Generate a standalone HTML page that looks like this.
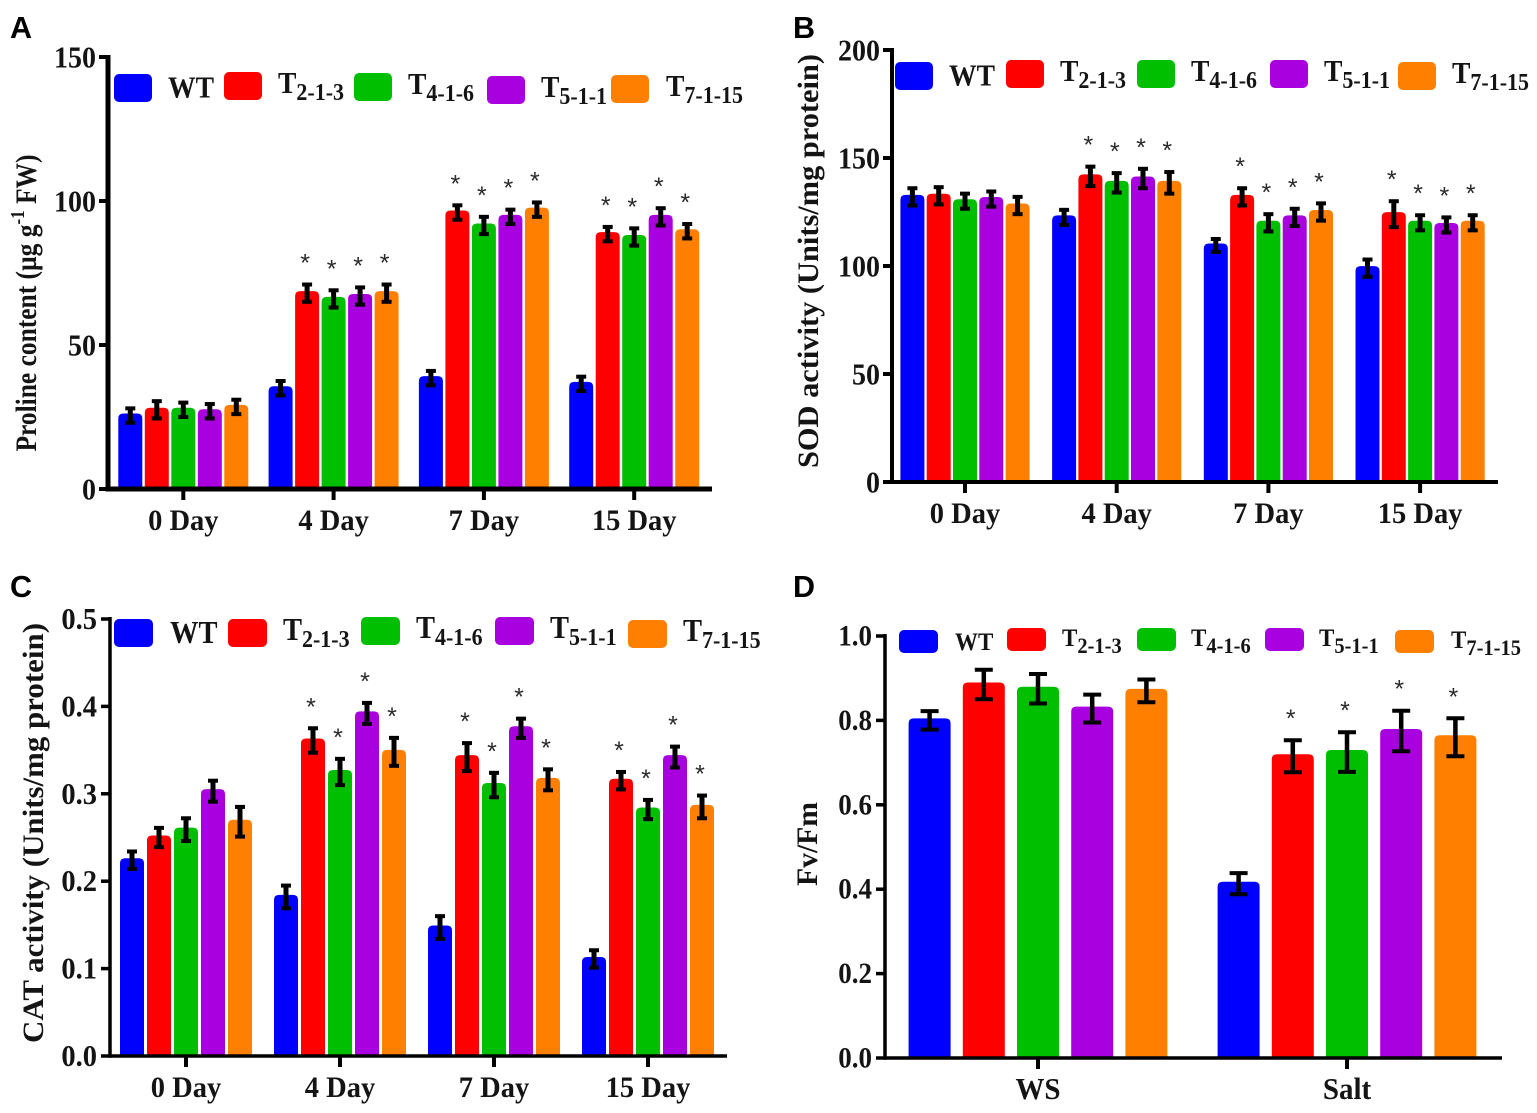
<!DOCTYPE html>
<html lang="en">
<head>
<meta charset="utf-8">
<title>Physiological measurements of WT and transgenic lines</title>
<style>
html,body{margin:0;padding:0;background:#fff;width:1537px;height:1113px;overflow:hidden}
svg{display:block}
text{font-family:"Liberation Serif",serif;font-weight:bold;fill:#141414}
.panel-letter{font-family:"Liberation Sans",sans-serif;font-size:30.5px;fill:#000}
</style>
</head>
<body>
<svg id="figure" width="1537" height="1113" viewBox="0 0 1537 1113" xmlns="http://www.w3.org/2000/svg"></svg>
<script>
// ---- Shared data ----
const seriesNames = ["WT", "T2-1-3", "T4-1-6", "T5-1-1", "T7-1-15"];
const seriesColors = ["#0000ff", "#ff0000", "#00bf00", "#a900e0", "#ff8000"];
const dayCategories = ["0 Day", "4 Day", "7 Day", "15 Day"];

// ---- Panel A: proline ----
const prolineTicks = [0, 50, 100, 150];
const prolineValues = [
  [25.5, 35, 38.5, 36.5],
  [27.5, 68, 96, 88.5],
  [27.5, 66, 91.5, 87.5],
  [27, 67, 94.5, 94.5],
  [28.5, 68, 97, 89.5]
];
const prolineErrors = [
  [2.5, 2.5, 2.5, 2.5],
  [3, 3, 2.5, 2.5],
  [2.5, 3, 3, 3],
  [2.5, 3, 2.5, 3],
  [2.5, 3, 2.5, 2.5]
];
const prolineStars = [
  [0, 0, 0, 0],
  [0, 1, 1, 1],
  [0, 1, 1, 1],
  [0, 1, 1, 1],
  [0, 1, 1, 1]
];

// ---- Panel B: SOD ----
const sodTicks = [0, 50, 100, 150, 200];
const sodValues = [
  [132, 122.5, 109.5, 99],
  [132.5, 141.5, 132, 124],
  [130, 138.5, 120, 120],
  [131, 140.5, 122.5, 119],
  [128, 138.5, 125, 120]
];
const sodErrors = [
  [4, 3.5, 3, 4],
  [4, 4.5, 4, 6],
  [3.5, 4.5, 4, 3.5],
  [3.5, 4.5, 4, 3.5],
  [4, 5, 4, 3.5]
];
const sodStars = [
  [0, 0, 0, 0],
  [0, 1, 1, 1],
  [0, 1, 1, 1],
  [0, 1, 1, 1],
  [0, 1, 1, 1]
];

// ---- Panel C: CAT ----
const catTicks = ["0.0", "0.1", "0.2", "0.3", "0.4", "0.5"];
const catValues = [
  [0.224, 0.182, 0.147, 0.111],
  [0.25, 0.361, 0.342, 0.315],
  [0.259, 0.325, 0.31, 0.282],
  [0.303, 0.392, 0.375, 0.342],
  [0.268, 0.348, 0.316, 0.285]
];
const catErrors = [
  [0.01, 0.013, 0.013, 0.01],
  [0.011, 0.014, 0.016, 0.01],
  [0.013, 0.015, 0.014, 0.011],
  [0.012, 0.012, 0.011, 0.012],
  [0.017, 0.016, 0.012, 0.013]
];
const catStars = [
  [0, 0, 0, 0],
  [0, 1, 1, 1],
  [0, 1, 1, 1],
  [0, 1, 1, 1],
  [0, 1, 1, 1]
];

// ---- Panel D: Fv/Fm ----
const fvCategories = ["WS", "Salt"];
const fvTicks = ["0.0", "0.2", "0.4", "0.6", "0.8", "1.0"];
const fvValues = [
  [0.8, 0.413],
  [0.885, 0.715],
  [0.875, 0.725],
  [0.828, 0.775],
  [0.87, 0.76]
];
const fvErrors = [
  [0.022, 0.025],
  [0.035, 0.038],
  [0.035, 0.047],
  [0.033, 0.048],
  [0.027, 0.045]
];
const fvStars = [
  [0, 0],
  [0, 1],
  [0, 1],
  [0, 1],
  [0, 1]
];

const panels = [
  {id:"a", letter:"A", lx:10, ly:38, axisX:108, y0:489, yTop:57, yMax:150, xEnd:712, first:183.3, step:150.3, barStep:26.5, barW:24,
   capW:10, errW:5, stroke:5, tickFont:28, tickOff:10.5, tickGap:12, catFont:28.5, catY:530, cats:dayCategories, ticks:prolineTicks, values:prolineValues, errors:prolineErrors, stars:prolineStars,
   titleX:36, titleCenter:303, titleLen:297, title:"Proline", titleFont:30,
   legendFont:27.6, subFont:22, swW:38, swH:28, wtBase:23.5, tBase:21,
   legend:[[114,74,168],[224,72,278],[354,73,408],[487,76,541],[611,75,666]]},
  {id:"b", letter:"B", lx:793, ly:38, axisX:892, y0:482, yTop:50, yMax:200, xEnd:1498, first:965, step:151.7, barStep:26.3, barW:24,
   capW:10, errW:5, stroke:4, tickFont:28, tickOff:10.5, tickGap:12, catFont:28.5, catY:523, cats:dayCategories, ticks:sodTicks, values:sodValues, errors:sodErrors, stars:sodStars,
   titleX:818, titleCenter:261, titleLen:414, title:"SOD activity (Units/mg protein)", titleFont:30,
   legendFont:27.6, subFont:22, swW:38, swH:28, wtBase:23.5, tBase:21,
   legend:[[895,62,949],[1006,60,1060],[1137,60,1191],[1270,60,1324],[1398,62,1452]]},
  {id:"c", letter:"C", lx:10, ly:597, axisX:110, y0:1056, yTop:619, yMax:0.5, xEnd:727, first:186, step:154, barStep:27, barW:24,
   capW:10, errW:5, stroke:3.5, tickFont:28.5, tickOff:10, tickGap:13, catFont:28.5, catY:1097, cats:dayCategories, ticks:catTicks, values:catValues, errors:catErrors, stars:catStars,
   titleX:43, titleCenter:833, titleLen:420, title:"CAT activity (Units/mg protein)", titleFont:30,
   legendFont:28.5, subFont:22, swW:39, swH:28, wtBase:24, tBase:21,
   legend:[[114,619,170],[228,619,283],[361,617,416],[495,617,550],[628,620,683]]},
  {id:"d", letter:"D", lx:793, ly:597, axisX:885, y0:1058, yTop:636, yMax:1, xEnd:1502, first:1038, step:309, barStep:54.2, barW:42,
   capW:18, errW:4.5, stroke:3.5, tickFont:27, tickOff:9.5, tickGap:13, catFont:29, catY:1099, cats:fvCategories, ticks:fvTicks, values:fvValues, errors:fvErrors, stars:fvStars,
   titleX:817, titleCenter:844, titleLen:84, title:"Fv/Fm", titleFont:30,
   legendFont:23, subFont:20.5, swW:39, swH:23, wtBase:20, tBase:18,
   legend:[[899,630,955],[1007,628,1062],[1137,628,1191],[1265,628,1319],[1395,630,1451]]}
];

const NS = "http://www.w3.org/2000/svg";
const fig = document.getElementById("figure");
const BAR_LIFT = 2;
const R = 5;

function make(parent, tag, attrs, txt) {
  const el = document.createElementNS(NS, tag);
  for (const k in attrs) el.setAttribute(k, attrs[k]);
  if (txt !== undefined) el.textContent = txt;
  parent.appendChild(el);
  return el;
}

function drawPanel(p) {
  const yScale = v => p.y0 - (v / p.yMax) * (p.y0 - p.yTop);
  const groupX = g => p.first + g * p.step;
  const barX = (g, s) => groupX(g) + (s - 2) * p.barStep;

  const g = make(fig, "g", {});
  
  

  const letter = make(g, "text", {x:p.lx, y:p.ly, "class":"panel-letter"}, p.letter);
  
  

  // bars, error bars, stars
  p.values.forEach((row, s) => {
    row.forEach((v, c) => {
      const x = barX(c, s);
      const yv = yScale(v) - BAR_LIFT;
      const l = x - p.barW / 2, r = x + p.barW / 2;
      const bar = make(g, "path", {
        d:`M${l} ${p.y0}V${yv + R}Q${l} ${yv} ${l + R} ${yv}H${r - R}Q${r} ${yv} ${r} ${yv + R}V${p.y0}Z`,
        fill:seriesColors[s]
      });
      
      

      const e = p.errors[s][c];
      const yHi = yScale(v + e), yLo = yScale(v - e);
      const err = make(g, "g", {});
      
      
      make(err, "line", {x1:x, x2:x, y1:yHi, y2:yLo, stroke:"#000", "stroke-width":p.errW});
      make(err, "line", {x1:x - p.capW/2, x2:x + p.capW/2, y1:yHi, y2:yHi, stroke:"#000", "stroke-width":4});
      make(err, "line", {x1:x - p.capW/2, x2:x + p.capW/2, y1:yLo, y2:yLo, stroke:"#000", "stroke-width":4});

      if (p.stars[s][c]) {
        const star = make(g, "text", {x:x - 2, y:yHi - 13, "text-anchor":"middle", "font-size":25, style:"font-weight:normal;fill:#2a2a2a;font-family:'Liberation Sans',sans-serif"}, "*");
        
        
      }
    });
  });

  // axes
  const yAxis = make(g, "line", {x1:p.axisX, x2:p.axisX, y1:p.yTop - 2, y2:p.y0 + p.stroke/2, stroke:"#000", "stroke-width":p.stroke});
  
  
  const xAxis = make(g, "line", {x1:p.axisX, x2:p.xEnd, y1:p.y0, y2:p.y0, stroke:"#000", "stroke-width":p.stroke});
  
  

  // y ticks
  p.ticks.forEach((t, i) => {
    const val = parseFloat(t);
    const y = yScale(val);
    make(g, "line", {x1:p.axisX - 9, x2:p.axisX, y1:y, y2:y, stroke:"#000", "stroke-width":Math.min(p.stroke, 4)});
    const lab = make(g, "text", {transform:`translate(${p.axisX - p.tickGap},${y + p.tickOff}) scale(1,1.08)`, "text-anchor":"end", "font-size":p.tickFont}, t);
    
    
  });

  // x ticks and categories
  p.cats.forEach((cat, c) => {
    const x = groupX(c);
    make(g, "line", {x1:x, x2:x, y1:p.y0, y2:p.y0 + 11, stroke:"#000", "stroke-width":4});
    const lab = make(g, "text", {transform:`translate(${x},${p.catY}) scale(1,1.05)`, "text-anchor":"middle", "font-size":p.catFont}, cat);
    
    
  });

  // y-axis title
  const title = make(g, "text", {
    transform:`translate(${p.titleX},${p.titleCenter}) rotate(-90)`,
    "text-anchor":"middle", "font-size":p.titleFont,
    textLength:p.titleLen, lengthAdjust:"spacingAndGlyphs"
  });
  
  
  if (p.id === "a") {
    title.appendChild(document.createTextNode("Proline content (\u00b5g g"));
    make(title, "tspan", {dy:-12, "font-size":20}, "-1");
    make(title, "tspan", {dy:12}, " FW)");
  } else {
    title.textContent = p.title;
  }

  // legend
  p.legend.forEach((row, s) => {
    const [sx, sy, tx] = row;
    const sw = make(g, "rect", {x:sx, y:sy, width:p.swW, height:p.swH, rx:5, fill:seriesColors[s]});
    
    
    const ty = sy + (s === 0 ? p.wtBase : p.tBase);
    const label = make(g, "text", {transform:`translate(${tx},${ty}) scale(1,1.1)`, "font-size":p.legendFont});
    
    
    if (s === 0) {
      label.textContent = "WT";
    } else {
      label.appendChild(document.createTextNode("T"));
      make(label, "tspan", {dy:6.5, "font-size":p.subFont}, seriesNames[s].slice(1));
    }
  });
}

panels.forEach(drawPanel);
</script>
</body>
</html>
